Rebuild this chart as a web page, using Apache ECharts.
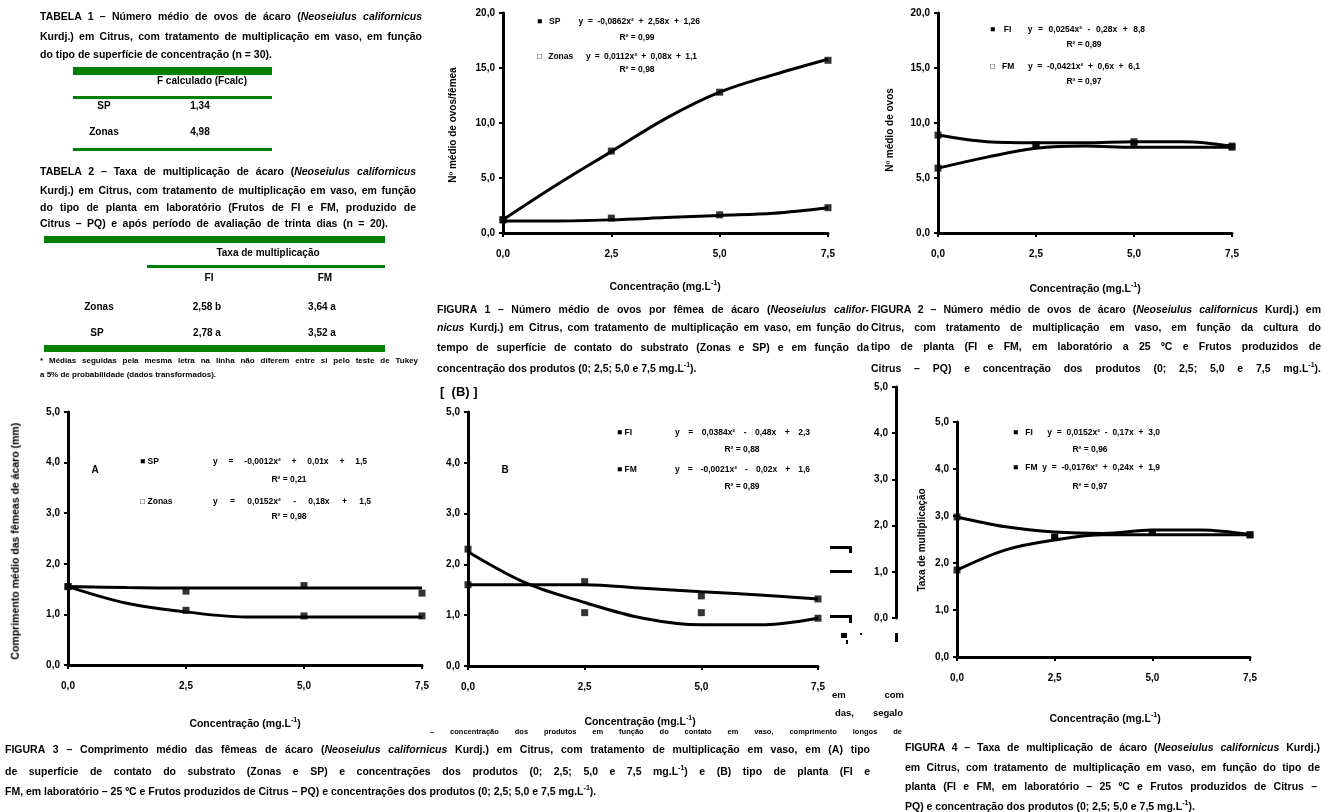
<!DOCTYPE html>
<html lang="pt"><head><meta charset="utf-8">
<script src="https://cdn.jsdelivr.net/npm/echarts/dist/echarts.min.js"></script>
<style>
html,body{margin:0;padding:0;background:#fff;}
#c{position:absolute;left:0;top:0;width:1325px;height:812px;}
.t{position:absolute;font-family:'Liberation Sans',Arial,sans-serif;font-weight:bold;color:#000;line-height:1;white-space:nowrap;}
.j{white-space:normal;text-align:justify;text-align-last:justify;overflow:hidden;}
.g{position:absolute;background:#008000;}
.v{position:absolute;font-family:'Liberation Sans',Arial,sans-serif;font-weight:bold;color:#000;white-space:nowrap;transform:rotate(-90deg);transform-origin:center center;line-height:1;}
</style></head>
<body>
<div id="c"></div>
<div id="txt"></div>
<script>
// ---------------- DATA ----------------
const X_CURVE = [0, 1.25, 2.5, 3.75, 5, 6.25, 7.5];
const X_POINTS = [0, 2.5, 5, 7.5];

// Figura 1 (número médio de ovos)
const f1UpperCurve = [1.2, 4.4, 7.4, 10.4, 12.8, 14.4, 15.8];
const f1UpperPts   = [1.2, 7.45, 12.8, 15.7];
const f1LowerCurve = [1.1, 1.1, 1.2, 1.4, 1.6, 1.8, 2.3];
const f1LowerPts   = [1.2, 1.35, 1.65, 2.3];
// Figura 2
const f2UpperCurve = [8.9, 8.3, 8.2, 8.2, 8.3, 8.3, 7.9];
const f2UpperPts   = [8.9, 8.0, 8.3, 7.9];
const f2LowerCurve = [5.9, 6.9, 7.7, 7.9, 7.8, 7.8, 7.8];
const f2LowerPts   = [5.9, 8.0, 8.1, 7.8];
// Figura 3 (A)
const f3FlatCurve = [1.55, 1.53, 1.52, 1.52, 1.52, 1.52, 1.52];
const f3FlatPts   = [1.55, 1.46, 1.57, 1.42];
const f3DecCurve  = [1.55, 1.22, 1.05, 0.95, 0.95, 0.95, 0.95];
const f3DecPts    = [1.55, 1.08, 0.97, 0.97];
// Figura 3 (B)
const f4DecCurve  = [2.25, 1.63, 1.25, 0.94, 0.81, 0.81, 0.94];
const f4DecPts    = [2.3, 1.05, 1.05, 0.94];
const f4FlatCurve = [1.6, 1.6, 1.6, 1.53, 1.46, 1.4, 1.32];
const f4FlatPts   = [1.6, 1.66, 1.38, 1.32];
// Figura 4
const f5UpperCurve = [2.98, 2.77, 2.66, 2.63, 2.7, 2.7, 2.6];
const f5UpperPts   = [2.98, 2.55, 2.65, 2.6];
const f5LowerCurve = [1.85, 2.28, 2.49, 2.6, 2.6, 2.6, 2.6];
const f5LowerPts   = [1.85, 2.55, 2.65, 2.6];

const yRanges = [[0,20,5],[0,20,5],[0,5,1],[0,5,1],[0,5,1],[0,5,1]];
const xRange = [0, 7.5, 2.5];

// ---------------- LAYOUT ----------------
const grids = [
  {left:503, top:13, width:325, height:220},
  {left:938, top:13, width:294, height:220},
  {left:68,  top:412, width:354, height:253},
  {left:468, top:412, width:350, height:254},
  {left:957, top:422, width:293, height:235},
  {left:896, top:387, width:1,   height:231}
];
const fmt = v => v.toFixed(1).replace('.', ',');
const lblFont = {color:'#000', fontWeight:'bold', fontSize:10, fontFamily:'Liberation Sans'};

const xAxis = grids.map((g,i)=>({
  type:'value', gridIndex:i, min:xRange[0], max:xRange[1], interval:xRange[2],
  show: i !== 5,
  axisLine:{onZero:false, lineStyle:{color:'#000', width:3}},
  axisTick:{length:4, lineStyle:{color:'#000', width:2}},
  splitLine:{show:false},
  axisLabel:Object.assign({margin:16, formatter:fmt}, lblFont)
}));
const yAxis = grids.map((g,i)=>({
  type:'value', gridIndex:i, min:yRanges[i][0], max:yRanges[i][1], interval:yRanges[i][2],
  axisLine:{show:true, onZero:false, lineStyle:{color:'#000', width:3}},
  axisTick:{show:true, length:4, lineStyle:{color:'#000', width:2}},
  splitLine:{show:false},
  axisLabel:Object.assign({margin:8, formatter:fmt}, lblFont)
}));

const series = [];
function addFig(i, curves, pts){
  curves.forEach(c=>series.push({type:'line', xAxisIndex:i, yAxisIndex:i, smooth:0.35,
    symbol:'none', lineStyle:{color:'#000', width:3}, silent:true,
    data:X_CURVE.map((x,k)=>[x,c[k]])}));
  pts.forEach(p=>series.push({type:'scatter', xAxisIndex:i, yAxisIndex:i, symbol:'rect',
    symbolSize:7, itemStyle:{color:'#000'}, silent:true,
    data:X_POINTS.map((x,k)=>[x,p[k]])}));
}
addFig(0,[f1UpperCurve,f1LowerCurve],[f1UpperPts,f1LowerPts]);
addFig(1,[f2UpperCurve,f2LowerCurve],[f2UpperPts,f2LowerPts]);
addFig(2,[f3FlatCurve,f3DecCurve],[f3FlatPts,f3DecPts]);
addFig(3,[f4DecCurve,f4FlatCurve],[f4DecPts,f4FlatPts]);
addFig(4,[f5UpperCurve,f5LowerCurve],[f5UpperPts,f5LowerPts]);

const chart = echarts.init(document.getElementById('c'), null, {renderer:'canvas'});
chart.setOption({
  animation:false, backgroundColor:'#fff',
  grid:grids.map(g=>Object.assign({containLabel:false}, g)),
  xAxis, yAxis, series,
  graphic:[
    {type:'rect', shape:{x:830,y:546,width:22,height:3}, style:{fill:'#000'}},
    {type:'rect', shape:{x:849,y:546,width:3,height:7}, style:{fill:'#000'}},
    {type:'rect', shape:{x:830,y:570,width:22,height:3}, style:{fill:'#000'}},
    {type:'rect', shape:{x:830,y:615,width:22,height:3}, style:{fill:'#000'}},
    {type:'rect', shape:{x:849,y:615,width:3,height:8}, style:{fill:'#000'}},
    {type:'rect', shape:{x:841,y:633,width:6,height:5}, style:{fill:'#000'}},
    {type:'rect', shape:{x:846,y:640,width:2,height:4}, style:{fill:'#000'}},
    {type:'rect', shape:{x:895,y:633,width:3,height:9}, style:{fill:'#000'}},
    {type:'rect', shape:{x:860,y:633,width:2,height:2}, style:{fill:'#000'}}
  ]
});

// ---------------- TEXT ----------------
const T = document.getElementById('txt');
const SUP = '<sup style="font-size:7px">-1</sup>';
function line(text, x, yc, w, fs, justify){
  const d = document.createElement('div');
  d.className = 't' + (justify ? ' j' : '');
  d.style.left = x + 'px'; d.style.top = (yc - fs*0.55) + 'px';
  d.style.fontSize = fs + 'px';
  if (w) { d.style.width = w + 'px'; if (justify) d.style.height = (fs+3)+'px'; }
  d.innerHTML = text; T.appendChild(d);
}
function center(text, cx, yc, fs){
  const d = document.createElement('div');
  d.className = 't'; d.style.fontSize = fs + 'px';
  d.style.left = (cx - 200) + 'px'; d.style.width = '400px'; d.style.textAlign = 'center';
  d.style.top = (yc - fs*0.55) + 'px'; d.innerHTML = text; T.appendChild(d);
}
function vtext(text, cx, cy, fs){
  const d = document.createElement('div');
  d.className = 'v'; d.style.fontSize = fs + 'px';
  d.style.width = '300px'; d.style.textAlign = 'center';
  d.style.left = (cx - 150) + 'px'; d.style.top = (cy - fs/2) + 'px';
  d.innerHTML = text; T.appendChild(d);
}
function green(x, y, w, h){
  const d = document.createElement('div'); d.className = 'g';
  d.style.left = x+'px'; d.style.top = y+'px'; d.style.width = w+'px'; d.style.height = h+'px';
  T.appendChild(d);
}
const CF = 10.5; // tamanho de letra das legendas

// Tabela 1
line('TABELA 1 – Número médio de ovos de ácaro (<i>Neoseiulus californicus</i>', 40, 17, 382, CF, true);
line('Kurdj.) em Citrus, com tratamento de multiplicação em vaso, em função', 40, 37, 382, CF, true);
line('do tipo de superfície de concentração (n = 30).', 40, 55, 0, CF, false);
green(73, 67, 199, 8);
center('F calculado (Fcalc)', 202, 81, 10);
green(73, 96, 199, 3);
center('SP', 104, 106, 10); center('1,34', 200, 106, 10);
center('Zonas', 104, 132, 10); center('4,98', 200, 132, 10);
green(73, 148, 199, 3);

// Tabela 2
line('TABELA 2 – Taxa de multiplicação de ácaro (<i>Neoseiulus californicus</i>', 40, 172, 376, CF, true);
line('Kurdj.) em Citrus, com tratamento de multiplicação em vaso, em função', 40, 191, 376, CF, true);
line('do tipo de planta em laboratório (Frutos de FI e FM, produzido de', 40, 208, 376, CF, true);
line('Citrus – PQ) e após período de avaliação de trinta dias (n = 20).', 40, 224, 348, CF, true);
green(44, 236, 341, 7);
center('Taxa de multiplicação', 268, 253, 10);
green(147, 265, 238, 3);
center('FI', 209, 278, 10); center('FM', 325, 278, 10);
center('Zonas', 99, 307, 10); center('2,58 b', 207, 307, 10); center('3,64 a', 322, 307, 10);
center('SP', 97, 333, 10); center('2,78 a', 207, 333, 10); center('3,52 a', 322, 333, 10);
green(44, 345, 341, 7);
line('* Médias seguidas pela mesma letra na linha não diferem entre si pelo teste de Tukey', 40, 361, 378, 8, true);
line('a 5% de probabilidade (dados transformados).', 40, 375, 0, 8, false);

// Figura 1 textos
line('■ SP &nbsp;&nbsp; y = -0,0862x² + 2,58x + 1,26', 537, 22, 163, 8.5, true);
center('R² = 0,99', 637, 38, 8.5);
line('□ Zonas &nbsp; y = 0,0112x² + 0,08x + 1,1', 537, 57, 160, 8.5, true);
center('R² = 0,98', 637, 70, 8.5);
vtext('Nº médio de ovos/fêmea', 453, 125, 10);
center('Concentração (mg.L'+SUP+')', 665, 285, 10.5);
line('FIGURA 1 – Número médio de ovos por fêmea de ácaro (<i>Neoseiulus califor-</i>', 437, 310, 432, CF, true);
line('<i>nicus</i> Kurdj.) em Citrus, com tratamento de multiplicação em vaso, em função do', 437, 328, 432, CF, true);
line('tempo de superfície de contato do substrato (Zonas e SP) e em função da', 437, 348, 432, CF, true);
line('concentração dos produtos (0; 2,5; 5,0 e 7,5 mg.L'+SUP+').', 437, 367, 0, CF, false);

// Figura 2 textos
line('■ FI &nbsp; y = 0,0254x² - 0,28x + 8,8', 990, 30, 155, 8.5, true);
center('R² = 0,89', 1084, 45, 8.5);
line('□ FM &nbsp; y = -0,0421x² + 0,6x + 6,1', 990, 67, 150, 8.5, true);
center('R² = 0,97', 1084, 82, 8.5);
vtext('Nº médio de ovos', 890, 130, 10);
center('Concentração (mg.L'+SUP+')', 1085, 287, 10.5);
line('FIGURA 2 – Número médio de ovos de ácaro (<i>Neoseiulus californicus</i> Kurdj.) em', 871, 310, 450, CF, true);
line('Citrus, com tratamento de multiplicação em vaso, em função da cultura do', 871, 328, 450, CF, true);
line('tipo de planta (FI e FM, em laboratório a 25 ºC e Frutos produzidos de', 871, 347, 450, CF, true);
line('Citrus – PQ) e concentração dos produtos (0; 2,5; 5,0 e 7,5 mg.L'+SUP+').', 871, 367, 450, CF, true);

// Figura 3 (A)
center('A', 95, 470, 10);
line('■ SP', 140, 462, 0, 8.5, false);
line('y = -0,0012x² + 0,01x + 1,5', 213, 462, 154, 8.5, true);
center('R² = 0,21', 289, 480, 8.5);
line('□ Zonas', 140, 502, 0, 8.5, false);
line('y = 0,0152x² - 0,18x + 1,5', 213, 502, 158, 8.5, true);
center('R² = 0,98', 289, 517, 8.5);
vtext('Comprimento médio das fêmeas de ácaro (mm)', 15, 541, 10.5);
center('Concentração (mg.L'+SUP+')', 245, 722, 10.5);

// Figura 3 (B)
line('[ &nbsp;(B) ]', 440, 392, 0, 13, false);
center('B', 505, 470, 10);
line('■ FI', 617, 433, 0, 8.5, false);
line('y = 0,0384x² - 0,48x + 2,3', 675, 433, 135, 8.5, true);
center('R² = 0,88', 742, 450, 8.5);
line('■ FM', 617, 470, 0, 8.5, false);
line('y = -0,0021x² - 0,02x + 1,6', 675, 470, 135, 8.5, true);
center('R² = 0,89', 742, 487, 8.5);
center('Concentração (mg.L'+SUP+')', 640, 720, 10.5);
line('em com', 832, 695, 72, 9.5, true);
line('das, segalo', 835, 713, 68, 9.5, true);
line('– concentração dos produtos em função do contato em vaso, comprimento longos de', 430, 732, 472, 7.5, true);

line('FIGURA 3 – Comprimento médio das fêmeas de ácaro (<i>Neoseiulus californicus</i> Kurdj.) em Citrus, com tratamento de multiplicação em vaso, em (A) tipo', 5, 750, 865, CF, true);
line('de superfície de contato do substrato (Zonas e SP) e concentrações dos produtos (0; 2,5; 5,0 e 7,5 mg.L'+SUP+') e (B) tipo de planta (FI e', 5, 770, 865, CF, true);
line('FM, em laboratório – 25 ºC e Frutos produzidos de Citrus – PQ) e concentrações dos produtos (0; 2,5; 5,0 e 7,5 mg.L'+SUP+').', 5, 790, 0, CF, false);

// Figura 4
line('■ FI &nbsp; y = 0,0152x² - 0,17x + 3,0', 1013, 433, 147, 8.5, true);
center('R² = 0,96', 1090, 450, 8.5);
line('■ FM y = -0,0176x² + 0,24x + 1,9', 1013, 468, 147, 8.5, true);
center('R² = 0,97', 1090, 487, 8.5);
vtext('Taxa de multiplicação', 922, 540, 10);
center('Concentração (mg.L'+SUP+')', 1105, 717, 10.5);
line('FIGURA 4 – Taxa de multiplicação de ácaro (<i>Neoseiulus californicus</i> Kurdj.)', 905, 748, 415, CF, true);
line('em Citrus, com tratamento de multiplicação em vaso, em função do tipo de', 905, 768, 415, CF, true);
line('planta (FI e FM, em laboratório – 25 ºC e Frutos produzidos de Citrus –', 905, 787, 412, CF, true);
line('PQ) e concentração dos produtos (0; 2,5; 5,0 e 7,5 mg.L'+SUP+').', 905, 805, 0, CF, false);
</script>
</body></html>
